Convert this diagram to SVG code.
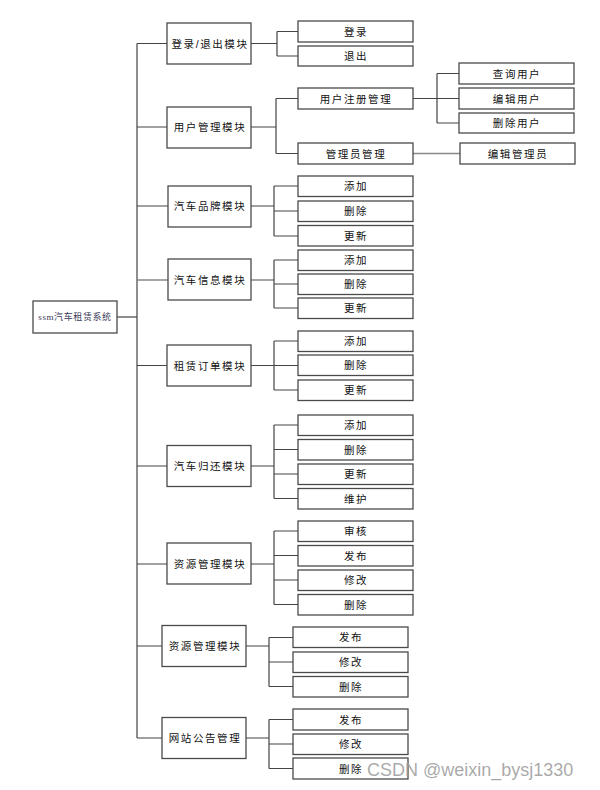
<svg xmlns="http://www.w3.org/2000/svg" width="600" height="790" viewBox="0 0 600 790">
<style>
.box{fill:#fff;stroke:#4a4a4a;stroke-width:1.3}
.ln{stroke:#444;stroke-width:1.2;fill:none}
.lg{stroke:#888;stroke-width:1.5;fill:none}
.t{font-family:"Liberation Sans","Noto Sans CJK SC",sans-serif;font-size:10.5px;letter-spacing:1.6px;text-anchor:middle;fill:#111}
.r{font-family:"Liberation Serif","Noto Sans CJK SC",serif;font-size:9px;text-anchor:middle;fill:#3a3a5a;letter-spacing:0.6px}
.wm{font-family:"Liberation Sans",sans-serif;font-size:18px;fill:#9a9a9a;fill-opacity:0.85}
</style>
<rect width="600" height="790" fill="#fff"/>
<g id="connectors">
<path class="ln" d="M137 43.5V738"/>
<path class="ln" d="M117 317H137" stroke-width="2.2"/>
<path class="ln" d="M137 43.5H167M251 43.5H277M277 31.5V56M277 31.5H298M277 56H298"/>
<path class="ln" d="M137 127H167M251 127H276M276 98.5V153.5M276 98.5H298M276 153.5H298"/>
<path class="ln" d="M413 98.5H459M437 73.5V123M437 73.5H459M437 123H459"/>
<path class="lg" d="M413 153.5H460"/>
<path class="ln" d="M137 206H168M251 206H274M274 186V236M274 186H298M274 211H298M274 236H298"/>
<path class="lg" d="M137 280H168M251 280H274"/>
<path class="ln" d="M274 260V308M274 260H298M274 284H298M274 308H298"/>
<path class="ln" d="M137 365.5H167M251 365.5H274M274 341V390M274 341H298M274 365.5H298M274 390H298"/>
<path class="ln" d="M137 466H167M251 466H274M274 425V498.5M274 425H298M274 449.5H298M274 474H298M274 498.5H298"/>
<path class="ln" d="M137 564H167M251 564H274M274 531V604.5M274 531H298M274 555.5H298M274 580H298M274 604.5H298"/>
<path class="ln" d="M137 646H162M246 646H269M269 637.5V686.5M269 637.5H293M269 662H293M269 686.5H293"/>
<path class="ln" d="M137 738H162M246 738H269M269 719.5V768.5M269 719.5H293M269 744H293M269 768.5H293"/>
</g>
<g id="root"><rect class="box" x="33" y="301" width="84" height="32"/><text class="r" x="75" y="320">ssm汽车租赁系统</text></g>

<g id="m1"><rect class="box" x="167" y="23" width="84" height="41"/><text class="t" x="210" y="47.5">登录/退出模块</text></g>
<g id="m1a"><rect class="box" x="298" y="21" width="115" height="21"/><text class="t" x="356" y="35.5">登录</text></g>
<g id="m1b"><rect class="box" x="298" y="46" width="115" height="20"/><text class="t" x="356" y="60">退出</text></g>

<g id="m2"><rect class="box" x="167" y="107" width="84" height="41"/><text class="t" x="210" y="131">用户管理模块</text></g>
<g id="m2a"><rect class="box" x="298" y="88" width="115" height="21"/><text class="t" x="356" y="102.5">用户注册管理</text></g>
<g id="m2b"><rect class="box" x="298" y="143" width="115" height="21"/><text class="t" x="356" y="157.5">管理员管理</text></g>
<g id="m2a1"><rect class="box" x="459" y="63" width="115" height="21"/><text class="t" x="517" y="77.5">查询用户</text></g>
<g id="m2a2"><rect class="box" x="459" y="88" width="115" height="21"/><text class="t" x="517" y="102.5">编辑用户</text></g>
<g id="m2a3"><rect class="box" x="459" y="113" width="115" height="20"/><text class="t" x="517" y="127">删除用户</text></g>
<g id="m2b1"><rect class="box" x="460" y="143" width="115" height="21"/><text class="t" x="518" y="157.5">编辑管理员</text></g>

<g id="m3"><rect class="box" x="168" y="186" width="83" height="41"/><text class="t" x="210" y="210">汽车品牌模块</text></g>
<g id="m3a"><rect class="box" x="298" y="176" width="115" height="20.5"/><text class="t" x="356" y="190">添加</text></g>
<g id="m3b"><rect class="box" x="298" y="201" width="115" height="20.5"/><text class="t" x="356" y="215">删除</text></g>
<g id="m3c"><rect class="box" x="298" y="225.5" width="115" height="20.5"/><text class="t" x="356" y="239.5">更新</text></g>

<g id="m4"><rect class="box" x="168" y="259" width="83" height="41"/><text class="t" x="210" y="284">汽车信息模块</text></g>
<g id="m4a"><rect class="box" x="298" y="250" width="115" height="20.5"/><text class="t" x="356" y="264">添加</text></g>
<g id="m4b"><rect class="box" x="298" y="274" width="115" height="20.5"/><text class="t" x="356" y="288">删除</text></g>
<g id="m4c"><rect class="box" x="298" y="298" width="115" height="20.5"/><text class="t" x="356" y="312">更新</text></g>

<g id="m5"><rect class="box" x="167" y="345" width="84" height="41"/><text class="t" x="210" y="369.5">租赁订单模块</text></g>
<g id="m5a"><rect class="box" x="298" y="331" width="115" height="20.5"/><text class="t" x="356" y="345">添加</text></g>
<g id="m5b"><rect class="box" x="298" y="355" width="115" height="20.5"/><text class="t" x="356" y="369">删除</text></g>
<g id="m5c"><rect class="box" x="298" y="380" width="115" height="20.5"/><text class="t" x="356" y="394">更新</text></g>

<g id="m6"><rect class="box" x="167" y="445.5" width="84" height="41"/><text class="t" x="210" y="470">汽车归还模块</text></g>
<g id="m6a"><rect class="box" x="298" y="415" width="115" height="20.5"/><text class="t" x="356" y="429">添加</text></g>
<g id="m6b"><rect class="box" x="298" y="439.5" width="115" height="20.5"/><text class="t" x="356" y="453.5">删除</text></g>
<g id="m6c"><rect class="box" x="298" y="464" width="115" height="20.5"/><text class="t" x="356" y="478">更新</text></g>
<g id="m6d"><rect class="box" x="298" y="488.5" width="115" height="20.5"/><text class="t" x="356" y="502.5">维护</text></g>

<g id="m7"><rect class="box" x="167" y="543" width="84" height="41"/><text class="t" x="210" y="568">资源管理模块</text></g>
<g id="m7a"><rect class="box" x="298" y="521" width="115" height="20.5"/><text class="t" x="356" y="535">审核</text></g>
<g id="m7b"><rect class="box" x="298" y="545.5" width="115" height="20.5"/><text class="t" x="356" y="559.5">发布</text></g>
<g id="m7c"><rect class="box" x="298" y="570" width="115" height="20.5"/><text class="t" x="356" y="584">修改</text></g>
<g id="m7d"><rect class="box" x="298" y="594.5" width="115" height="20.5"/><text class="t" x="356" y="608.5">删除</text></g>

<g id="m8"><rect class="box" x="162" y="625.5" width="84" height="41"/><text class="t" x="205" y="650">资源管理模块</text></g>
<g id="m8a"><rect class="box" x="293" y="627" width="115" height="20.5"/><text class="t" x="351" y="641">发布</text></g>
<g id="m8b"><rect class="box" x="293" y="652" width="115" height="20.5"/><text class="t" x="351" y="666">修改</text></g>
<g id="m8c"><rect class="box" x="293" y="676.5" width="115" height="20.5"/><text class="t" x="351" y="690.5">删除</text></g>

<g id="m9"><rect class="box" x="162" y="717.5" width="84" height="41"/><text class="t" x="205" y="742">网站公告管理</text></g>
<g id="m9a"><rect class="box" x="293" y="709" width="115" height="21"/><text class="t" x="351" y="723.5">发布</text></g>
<g id="m9b"><rect class="box" x="293" y="734" width="115" height="20.5"/><text class="t" x="351" y="748">修改</text></g>
<g id="m9c"><rect class="box" x="293" y="758" width="115" height="21"/><text class="t" x="351" y="772.5">删除</text></g>

<text class="wm" x="367" y="776">CSDN @weixin_bysj1330</text>
</svg>
